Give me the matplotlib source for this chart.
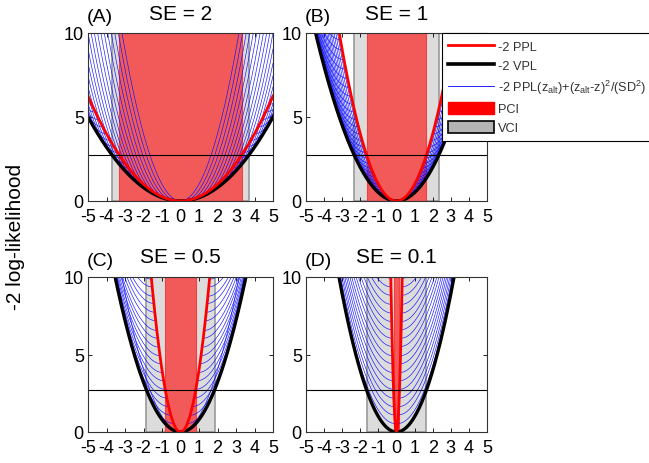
import numpy as np
import matplotlib
matplotlib.use('Agg')
import matplotlib.pyplot as plt
from matplotlib.lines import Line2D
from matplotlib.patches import Patch

plt.rcParams['font.family'] = ['Liberation Sans', 'DejaVu Sans']
plt.rcParams['axes.unicode_minus'] = False
plt.rcParams['mathtext.fontset'] = 'custom'
plt.rcParams['mathtext.rm'] = 'Liberation Sans'
plt.rcParams['mathtext.it'] = 'Liberation Sans'

# panel data
panel_tags = ['(A)', '(B)', '(C)', '(D)']
se_values = [2.0, 1.0, 0.5, 0.1]
sd = 1.0
pci_half = [3.3, 1.65, 0.82, 0.16]
vci_half = [3.7, 2.33, 1.84, 1.65]
threshold = 2.71
x_ticks = [-5, -4, -3, -2, -1, 0, 1, 2, 3, 4, 5]
y_ticks = [0, 5, 10]

# |z_alt| values of the blue curves in each panel (mirrored to negative side)
alt_a = [0.2, 0.4, 0.6, 0.8, 1.0, 1.2, 1.4, 1.6, 1.8, 2.0, 2.2, 2.4, 2.6,
         2.8, 3.0, 3.2, 3.4, 3.6, 3.8, 4.0, 4.2, 4.4, 4.6, 4.8, 5.0]
alt_b = [0.1, 0.2, 0.3, 0.4, 0.5, 0.6, 0.7, 0.8, 0.9, 1.0, 1.1, 1.2, 1.3, 1.4, 1.5, 1.6,
         1.7, 1.8, 1.9, 2.0, 2.1, 2.2, 2.3, 2.4, 2.5, 2.6, 2.7, 2.8, 2.9, 3.0, 3.1, 3.2]
alt_c = [0.37, 0.52, 0.64, 0.74, 0.83, 0.91, 0.98, 1.05, 1.11, 1.17, 1.23, 1.28,
         1.34, 1.39, 1.44, 1.48, 1.53, 1.57]
alt_d = [0.074, 0.105, 0.128, 0.148, 0.166, 0.182, 0.196, 0.210, 0.222, 0.235, 0.246,
         0.257, 0.267, 0.277, 0.287, 0.297, 0.306, 0.315]
alt_values = [alt_a, alt_b, alt_c, alt_d]

W, H = 649, 464
# axes boxes in pixels: left, top, right, bottom
boxes = [(88, 34, 273, 202), (306, 34, 487, 202),
         (88, 278, 273, 433), (306, 278, 487, 433)]

fig = plt.figure(figsize=(W / 100, H / 100), dpi=100)
z = np.linspace(-5, 5, 2001)

for i in range(4):
    l, t, r, b = boxes[i]
    ax = fig.add_axes([l / W, 1 - b / H, (r - l) / W, (b - t) / H])
    se = se_values[i]

    ax.axvspan(-vci_half[i], vci_half[i], facecolor='#dcdcdc', edgecolor='#999999', lw=1.2, zorder=1)
    ax.axvspan(-pci_half[i], pci_half[i], facecolor='#f25a5a', edgecolor='#f04040', lw=0.8, zorder=2)

    # z_alt = 0 curve on both sides, the rest only outward from their minimum
    ax.plot(z, z ** 2 / sd ** 2, color='#1010ff', lw=0.45, zorder=3)
    for a in alt_values[i]:
        for sign in (1, -1):
            c = sign * a
            y = c ** 2 / se ** 2 + (c - z) ** 2 / sd ** 2
            y = np.where(sign * (z - c) >= 0, y, np.nan)
            ax.plot(z, y, color='#1010ff', lw=0.45, zorder=3)

    ax.plot(z, z ** 2 / (se ** 2 + sd ** 2), color='black', lw=2.4, zorder=4)
    ax.plot(z, z ** 2 / se ** 2, color='red', lw=2.0, zorder=5)
    ax.axhline(threshold, color='black', lw=0.8, zorder=6)

    ax.set_xlim(-5, 5)
    ax.set_ylim(0, 10)
    ax.set_xticks(x_ticks)
    ax.set_xticklabels([str(v) for v in x_ticks])
    ax.set_yticks(y_ticks)
    ax.tick_params(direction='in', length=3, width=0.6, top=True, right=True,
                   labelsize=13, colors='black')
    ax.tick_params(axis='x', pad=5)
    ax.tick_params(axis='y', pad=3)
    for s in ax.spines.values():
        s.set_linewidth(0.8)
        s.set_color('#333333')
        s.set_zorder(10)

    fig.text((l - 1) / W, 1 - (t - 16) / H, panel_tags[i], fontsize=14, ha='left', va='center')
    fig.text((l + r) / 2 / W, 1 - (t - 20) / H, 'SE = %g' % se, fontsize=15, ha='center', va='center')

fig.text(16 / W, 1 - 237 / H, '-2 log-likelihood', rotation=90, fontsize=15, ha='center', va='center')

handles = [Line2D([], [], color='red', lw=2.0),
           Line2D([], [], color='black', lw=2.6),
           Line2D([], [], color='#0000ff', lw=0.6),
           Patch(facecolor='red', edgecolor='red'),
           Patch(facecolor='#b4b4b4', edgecolor='black', lw=1.2)]
labels = ['-2 PPL', '-2 VPL',
          '-2 PPL(z$_{\\rm alt}$)+(z$_{\\rm alt}$-z)$^2$/(SD$^2$)',
          'PCI', 'VCI']
leg = fig.legend(handles, labels, loc='upper left', bbox_to_anchor=(442 / W, 1 - 34 / H),
                 fontsize=9.2, handlelength=3.6, handleheight=1.1, handletextpad=0.3,
                 borderpad=0.5, labelspacing=0.45, frameon=True, fancybox=False,
                 edgecolor='black', framealpha=1, borderaxespad=0)
leg.get_frame().set_linewidth(0.8)
for txt in leg.get_texts():
    txt.set_color('#333333')

fig.savefig('out.png', dpi=100)
